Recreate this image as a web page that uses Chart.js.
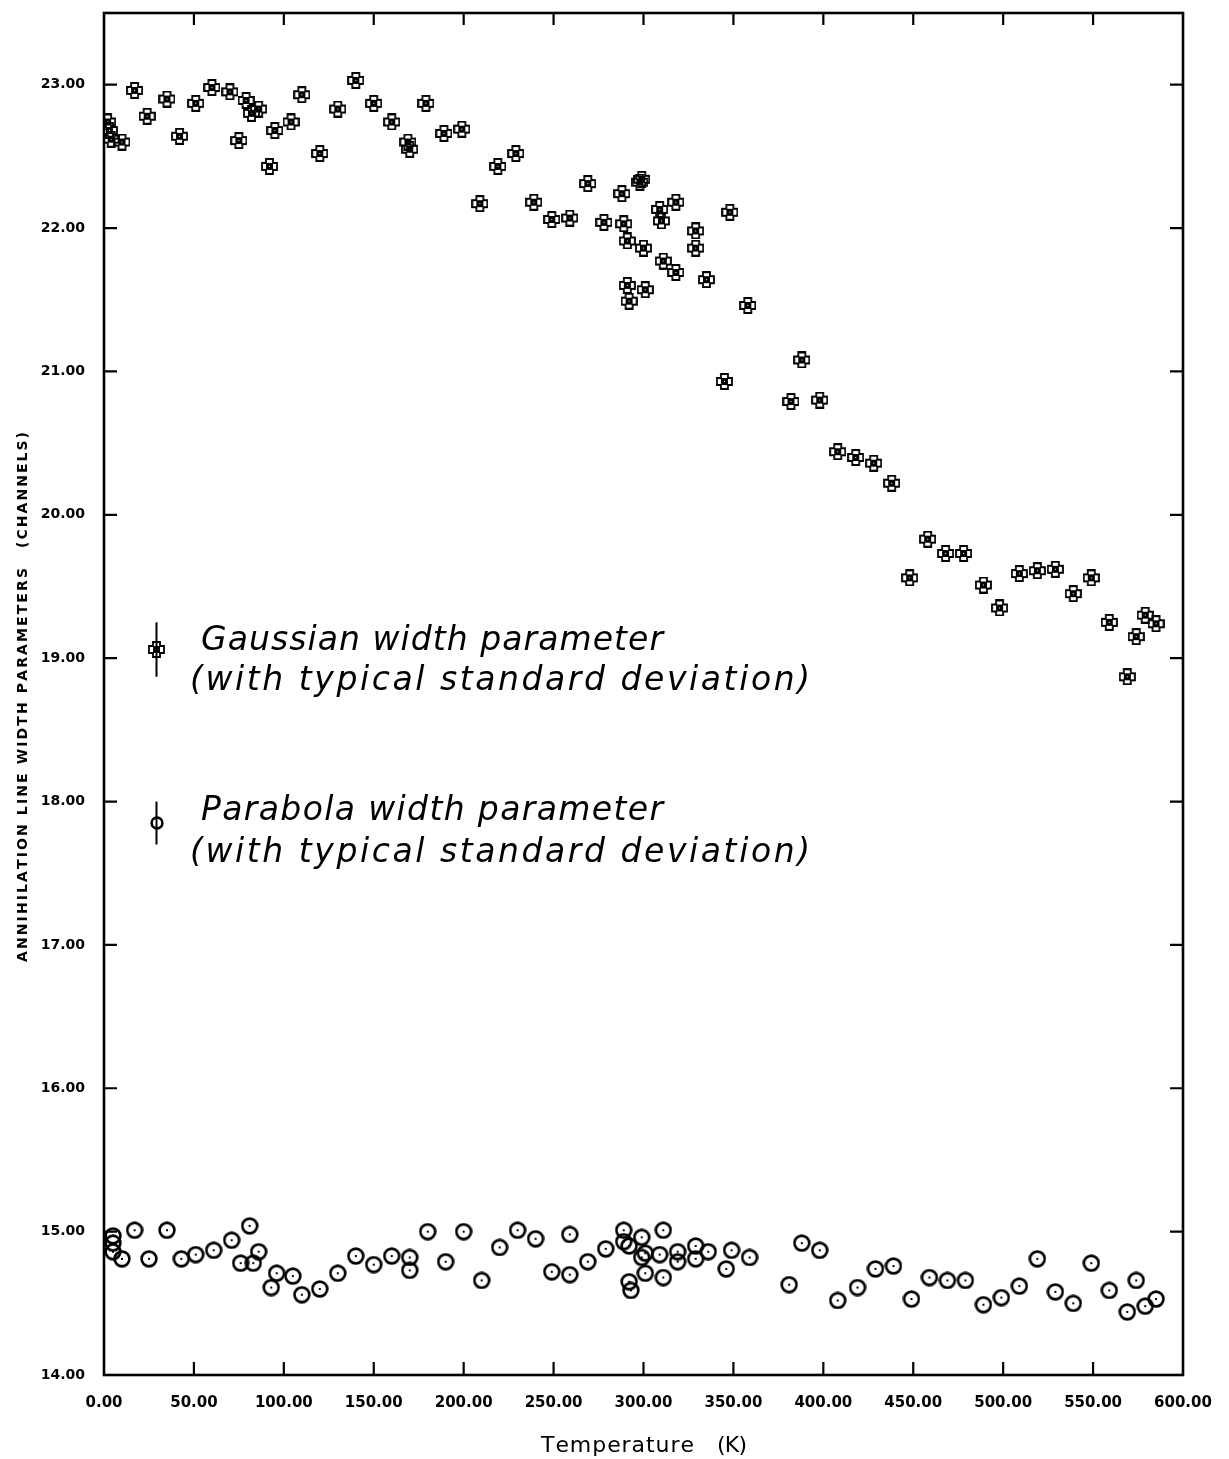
<!DOCTYPE html>
<html>
<head>
<meta charset="utf-8">
<title>Annihilation line width parameters</title>
<script src="https://cdn.jsdelivr.net/npm/chart.js@4.4.0/dist/chart.umd.min.js"></script>
<style>
  html, body { margin: 0; padding: 0; background: #fff; }
  #wrap { width: 1229px; height: 1459px; }
</style>
</head>
<body>
<div id="wrap"><canvas id="chart" width="1229" height="1459"></canvas></div>
<script>
// Gaussian width parameter vs temperature
const gaussT = [2, 3, 4, 10, 17, 24, 35, 42, 51, 60, 70, 75, 79, 82, 86, 92, 95, 104, 110, 120,
  130, 140, 150, 160, 169, 170, 179, 189, 199, 209, 219, 229, 239, 249, 259, 269, 278, 288, 289, 291,
  291, 292, 298, 299, 300, 301, 309, 310, 311, 318, 318, 329, 329, 335, 345, 348, 358, 382, 388, 398,
  408, 418, 428, 438, 448, 458, 468, 478, 489, 498, 509, 519, 529, 539, 549, 559, 569, 574, 579, 585];
const gaussW = [22.74, 22.68, 22.62, 22.60, 22.96, 22.78, 22.90, 22.64, 22.87, 22.98, 22.95, 22.61, 22.89, 22.80, 22.83, 22.43, 22.68, 22.74, 22.93, 22.52,
  22.83, 23.03, 22.87, 22.74, 22.60, 22.55, 22.87, 22.66, 22.69, 22.17, 22.43, 22.52, 22.18, 22.06, 22.07, 22.31, 22.04, 22.24, 22.03, 21.91,
  21.60, 21.49, 22.32, 22.34, 21.86, 21.57, 22.13, 22.05, 21.77, 22.18, 21.69, 21.98, 21.86, 21.64, 20.93, 22.11, 21.46, 20.79, 21.08, 20.80,
  20.44, 20.40, 20.36, 20.22, 19.56, 19.83, 19.73, 19.73, 19.51, 19.35, 19.59, 19.61, 19.62, 19.45, 19.56, 19.25, 18.87, 19.15, 19.30, 19.24];

// Parabola width parameter vs temperature
const paraT = [5, 5, 5, 10, 17, 25, 35, 43, 51, 61, 71, 76, 81, 83, 86, 93, 96, 105, 110, 120,
  130, 140, 150, 160, 170, 170, 180, 190, 200, 210, 220, 230, 240, 249, 259, 259, 269, 279, 289, 289,
  292, 292, 293, 299, 299, 301, 301, 309, 311, 311, 319, 319, 329, 329, 336, 346, 349, 359, 381, 388,
  398, 408, 419, 429, 439, 449, 459, 469, 479, 489, 499, 509, 519, 529, 539, 549, 559, 569, 574, 579, 585];
const paraW = [14.97, 14.92, 14.86, 14.81, 15.01, 14.81, 15.01, 14.81, 14.84, 14.87, 14.94, 14.78, 15.04, 14.78, 14.86, 14.61, 14.71, 14.69, 14.56, 14.60,
  14.71, 14.83, 14.77, 14.83, 14.82, 14.73, 15.00, 14.79, 15.00, 14.66, 14.89, 15.01, 14.95, 14.72, 14.98, 14.70, 14.79, 14.88, 15.01, 14.93,
  14.90, 14.65, 14.59, 14.96, 14.82, 14.85, 14.71, 14.84, 15.01, 14.68, 14.86, 14.79, 14.90, 14.81, 14.86, 14.74, 14.87, 14.82, 14.63, 14.92,
  14.87, 14.52, 14.61, 14.74, 14.76, 14.53, 14.68, 14.66, 14.66, 14.49, 14.54, 14.62, 14.81, 14.58, 14.50, 14.78, 14.59, 14.44, 14.66, 14.48, 14.53];

// axis ticks
const xTicks = [0, 50, 100, 150, 200, 250, 300, 350, 400, 450, 500, 550, 600];
const yTicks = [14, 15, 16, 17, 18, 19, 20, 21, 22, 23];

// legend samples: [temperature, width, half error bar]
const gaussSample = [29, 19.06, 0.19];
const paraSample = [29, 17.85, 0.15];

const INK = '#000';

function crossMark(size) {
  const c = document.createElement('canvas');
  c.width = c.height = size;
  const g = c.getContext('2d');
  // plus-shaped outline, solid centre, a small hole left in each arm
  const m = Math.floor(size / 2) + 0.5, a = 3.5, e = Math.floor(size / 2) - 0.5;
  g.strokeStyle = INK;
  g.lineWidth = 1.8;
  g.beginPath();
  g.moveTo(m - a, m - e); g.lineTo(m + a, m - e); g.lineTo(m + a, m - a);
  g.lineTo(m + e, m - a); g.lineTo(m + e, m + a); g.lineTo(m + a, m + a);
  g.lineTo(m + a, m + e); g.lineTo(m - a, m + e); g.lineTo(m - a, m + a);
  g.lineTo(m - e, m + a); g.lineTo(m - e, m - a); g.lineTo(m - a, m - a);
  g.closePath();
  g.stroke();
  g.fillStyle = INK;
  g.fillRect(m - a, m - a, 2 * a, 2 * a);
  g.clearRect(m - 0.5, m - 0.5, 1, 1);
  return c;
}

function ringMark(size, dot) {
  const c = document.createElement('canvas');
  c.width = c.height = size;
  const g = c.getContext('2d');
  const m = size / 2;
  g.strokeStyle = INK;
  g.lineWidth = 2.6;
  g.beginPath();
  g.arc(m, m, size / 2 - 1.6, 0, Math.PI * 2);
  g.stroke();
  if (dot) {
    g.fillStyle = INK;
    g.fillRect(m - 1, m - 1, 2, 2);
  }
  return c;
}

const crossImg = crossMark(17);
const ringImg = ringMark(18, true);
const legendRing = ringMark(14, false);

// text with stretched letter spacing so it spans a given width
function spacedText(ctx, text, x, y, width) {
  const chars = [...text];
  const widths = chars.map(ch => ctx.measureText(ch).width);
  const total = widths.reduce((s, w) => s + w, 0);
  const gap = chars.length > 1 ? (width - total) / (chars.length - 1) : 0;
  let cx = x;
  chars.forEach((ch, i) => { ctx.fillText(ch, cx, y); cx += widths[i] + gap; });
}

const frame = {
  id: 'frame',
  afterDraw(chart) {
    const { ctx, chartArea: a, scales: { x, y } } = chart;
    ctx.save();
    ctx.strokeStyle = INK;
    ctx.fillStyle = INK;
    ctx.lineWidth = 2.6;
    ctx.strokeRect(a.left, a.top, a.right - a.left, a.bottom - a.top);

    // inward tick marks on all four sides
    ctx.lineWidth = 2.2;
    ctx.beginPath();
    xTicks.slice(1, -1).forEach(v => {
      const px = x.getPixelForValue(v);
      ctx.moveTo(px, a.bottom); ctx.lineTo(px, a.bottom - 13);
      ctx.moveTo(px, a.top); ctx.lineTo(px, a.top + 12);
    });
    yTicks.slice(1).forEach(v => {
      const py = y.getPixelForValue(v);
      ctx.moveTo(a.left, py); ctx.lineTo(a.left + 13, py);
      ctx.moveTo(a.right, py); ctx.lineTo(a.right - 13, py);
    });
    ctx.stroke();

    // axis titles
    ctx.textBaseline = 'alphabetic';
    ctx.font = '22px "DejaVu Sans"';
    spacedText(ctx, 'Temperature', 541, 1452, 153);
    spacedText(ctx, '(K)', 717, 1452, 30);

    ctx.save();
    ctx.translate(27, 0);
    ctx.rotate(-Math.PI / 2);
    ctx.font = 'bold 14px "DejaVu Sans"';
    spacedText(ctx, 'ANNIHILATION LINE WIDTH PARAMETERS', -962, 0, 394);
    spacedText(ctx, '(CHANNELS)', -548, 0, 116);
    ctx.restore();

    // legend samples with their typical standard deviation
    [[gaussSample, crossImg], [paraSample, legendRing]].forEach(([s, img]) => {
      const px = Math.round(x.getPixelForValue(s[0])) + 0.5;
      const top = y.getPixelForValue(s[1] + s[2]);
      const bot = y.getPixelForValue(s[1] - s[2]);
      const py = y.getPixelForValue(s[1]);
      ctx.lineWidth = 2;
      ctx.beginPath();
      ctx.moveTo(px, top); ctx.lineTo(px, bot);
      ctx.stroke();
      ctx.drawImage(img, Math.round(px - img.width / 2), Math.round(py - img.height / 2));
    });

    ctx.font = 'italic 33px "DejaVu Sans"';
    spacedText(ctx, 'Gaussian width parameter', 201, 650, 462);
    spacedText(ctx, '(with typical standard deviation)', 190, 690, 620);
    spacedText(ctx, 'Parabola width parameter', 201, 820, 462);
    spacedText(ctx, '(with typical standard deviation)', 190, 862, 620);
    ctx.restore();
  }
};

new Chart(document.getElementById('chart'), {
  type: 'scatter',
  data: {
    datasets: [
      {
        label: 'Gaussian width parameter',
        data: gaussT.map((t, i) => ({ x: t, y: gaussW[i] })),
        pointStyle: crossImg,
        pointRadius: 8
      },
      {
        label: 'Parabola width parameter',
        data: paraT.map((t, i) => ({ x: t, y: paraW[i] })),
        pointStyle: ringImg,
        pointRadius: 8
      }
    ]
  },
  options: {
    responsive: false,
    animation: false,
    devicePixelRatio: 1,
    layout: { padding: { top: 13, right: 46, bottom: 0, left: 0 } },
    plugins: { legend: { display: false }, tooltip: { enabled: false } },
    scales: {
      x: {
        type: 'linear',
        min: 0,
        max: 600,
        afterFit: s => { s.height = 84; s.paddingLeft = 0; s.paddingRight = 0; },
        afterBuildTicks: s => { s.ticks = xTicks.map(v => ({ value: v })); },
        grid: { display: false, drawTicks: false },
        border: { display: false },
        ticks: {
          color: INK,
          padding: 19,
          autoSkip: false,
          maxRotation: 0,
          font: { family: '"DejaVu Sans"', size: 15, weight: 'bold' },
          callback: v => v.toFixed(2)
        }
      },
      y: {
        type: 'linear',
        min: 14,
        max: 23.5,
        afterFit: s => { s.width = 104; s.paddingTop = 0; s.paddingBottom = 0; },
        afterBuildTicks: s => { s.ticks = yTicks.map(v => ({ value: v })); },
        grid: { display: false, drawTicks: false },
        border: { display: false },
        ticks: {
          color: INK,
          padding: 19,
          font: { family: '"DejaVu Sans"', size: 14, weight: 'bold' },
          callback: v => v.toFixed(2)
        }
      }
    }
  },
  plugins: [frame]
});
</script>
</body>
</html>
